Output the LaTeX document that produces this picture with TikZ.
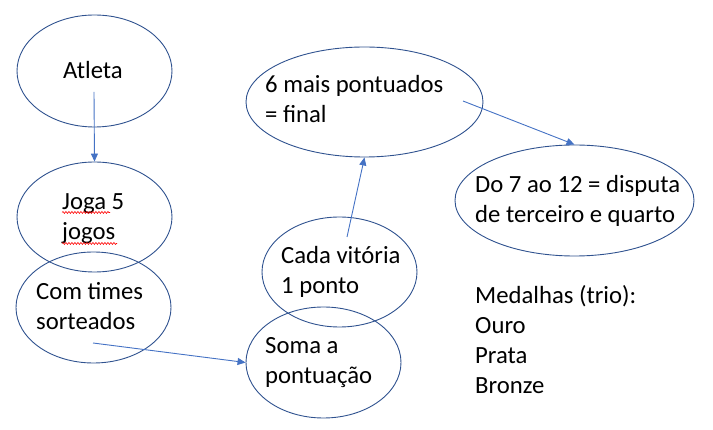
\documentclass[tikz,border=0pt]{standalone}
\usepackage{fontspec}
\setmainfont{Carlito}
\usetikzlibrary{arrows.meta,shapes.geometric,decorations.pathmorphing}
\definecolor{borde}{HTML}{2F528F}
\definecolor{azul}{HTML}{4472C4}

\begin{document}
\begin{tikzpicture}[x=1pt,y=-1pt,
    elipse/.style={draw=borde, line width=0.9pt, ellipse, inner sep=0pt},
    texto/.style={anchor=base west, inner sep=0pt, align=left,
      font=\fontsize{24.7}{30}\selectfont},
    flecha/.style={draw=azul, line width=0.9pt, -{Triangle[length=8pt,width=7pt]}},
    onda/.style={draw=red, line width=0.6pt, decorate,
      decoration={snake, amplitude=1pt, segment length=3pt}}]
      \useasboundingbox (0,0) rectangle (713,430); % Marco

      % Elipses
      \node[elipse, minimum width=155, minimum height=112] (atleta) at (94.5,71) {};
      \node[elipse, minimum width=155, minimum height=110] (joga) at (94.5,217) {};
      \node[elipse, minimum width=155, minimum height=111] (times) at (93.5,307.5) {};
      \node[elipse, minimum width=237, minimum height=110] (mais) at (364.5,102) {};
      \node[elipse, minimum width=239, minimum height=111] (disputa) at (574.5,200.5) {};
      \node[elipse, minimum width=155, minimum height=110] (cada) at (339.5,272) {};
      \node[elipse, minimum width=155, minimum height=111] (soma) at (323.5,362.5) {};

      % Textos (base = ultima linea)
      \node[texto] (tAtleta) at (63,79) {Atleta};
      \node[texto] (tJoga) at (62,240) {Joga 5\\jogos};
      \node[texto] (tTimes) at (36,330) {Com times\\sorteados};
      \node[texto] (tMais) at (265,123) {6 mais pontuados\\= final};
      \node[texto] (tDisputa) at (475,223) {Do 7 ao 12 = disputa\\de terceiro e quarto};
      \node[texto] (tCada) at (281,294) {Cada vitória\\1 ponto};
      \node[texto] (tSoma) at (265,384) {Soma a\\pontuação};
      \node[texto] (medalhas) at (475,394) {Medalhas (trio):\\Ouro\\Prata\\Bronze};

      % subrayado rojo
      \draw[onda] (62,212.5) -- (110,212.5);
      \draw[onda] (62,243.5) -- (117,243.5);

      % Flechas
      \coordinate (a1) at (94,92);
      \coordinate (t1) at (93,343);
      \coordinate (c1) at (347,237);
      \coordinate (m1) at (463,101);
      \draw[flecha] (a1) -- (joga.north);
      \draw[flecha] (t1) -- (soma.west);
      \draw[flecha] (c1) -- (mais.south);
      \draw[flecha] (m1) -- (disputa.north);

    \end{tikzpicture}
\end{document}
